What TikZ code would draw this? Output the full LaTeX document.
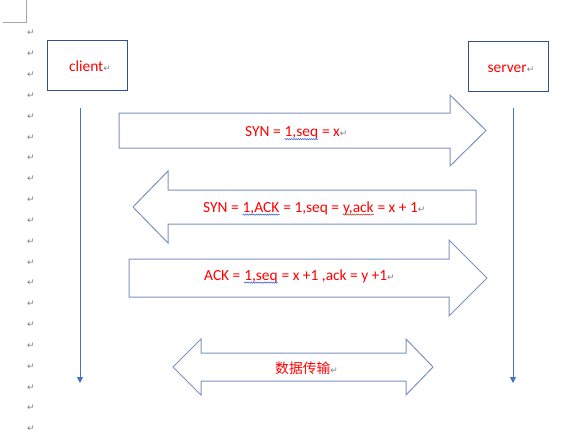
\documentclass[tikz,border=0pt]{standalone}
\usepackage{fontspec}
\setmainfont{Carlito}
\newfontfamily\cjkfont{Noto Sans CJK SC}
\newfontfamily\markfont{DejaVu Sans}
\usetikzlibrary{arrows.meta,decorations.pathmorphing}
\definecolor{boxblue}{RGB}{47,82,143}
\definecolor{shapeblue}{RGB}{125,145,190}
\definecolor{lineblue}{RGB}{68,114,196}
\definecolor{markgray}{RGB}{128,128,128}
\definecolor{spellblue}{RGB}{60,90,220}
\definecolor{spellred}{RGB}{180,70,40}
\newcommand\pmark{{\markfont\fontsize{9}{9}\selectfont\textcolor{markgray}{↵}}}
\newcommand\squig[2][spellblue]{\tikz[baseline=(w.base)]{\node[inner sep=0pt] (w) {#2};
    \draw[#1,line width=0.5pt,decorate,decoration={snake,amplitude=0.6pt,segment length=2.2pt}]
    ([yshift=-2.6pt]w.base west) -- ([yshift=-2.6pt]w.base east);}}

\begin{document}
\begin{tikzpicture}[x=1pt,y=-1pt,>={Triangle[width=6pt,length=6pt]},
      box/.style={draw=boxblue,line width=0.9pt,minimum width=80pt,minimum height=50pt,inner sep=0pt,
        text=red,font=\fontsize{15.4}{17}\selectfont,text height=13pt,text depth=0.4pt,
        execute at begin node=\hspace*{6pt}},
      msg/.style={text=red,font=\fontsize{15.4}{17}\selectfont,inner sep=0pt,anchor=base west},
      block/.style={draw=shapeblue,line width=1pt,line join=miter},
      life/.style={draw=lineblue,line width=0.9pt,->},
      pmk/.style={inner sep=0pt}]
      \useasboundingbox (0,0) rectangle (585,442);

      \draw[gray!70] (3,22) -- (26,22) -- (26,0);
      \foreach \i in {0,...,19}
        \node[pmk] (m\i) at (31,{33+20.84*\i}) {\pmark};

      \node[box] (client) at (87,65) {client\pmark};
      \node[box] (server) at (508,66) {server\pmark};

      \coordinate (c0) at (80,108);
      \coordinate (c1) at (80,383);
      \coordinate (s0) at (513,108);
      \coordinate (s1) at (513,383);
      \draw[life] (c0) -- (c1);
      \draw[life] (s0) -- (s1);

      \draw[block] (119,113) -- (450,113) -- (450,95) -- (486,130.5)
        -- (450,166) -- (450,148) -- (119,148) -- cycle;
      \draw[block] (476,190) -- (168,190) -- (168,171) -- (133,207)
        -- (168,243) -- (168,224) -- (476,224) -- cycle;
      \draw[block] (129,259) -- (449,259) -- (449,240) -- (487,278)
        -- (449,316) -- (449,297) -- (129,297) -- cycle;
      \draw[block] (201,353) -- (406,353) -- (406,339) -- (433,367)
        -- (406,395) -- (406,381) -- (201,381) -- (201,395)
        -- (173,367) -- (201,339) -- cycle;

      \node[msg] (syn) at (245,136.5) {SYN = \squig{1,seq} = x\pmark};
      \node[msg] (synack) at (203,212) {SYN = \squig{1,ACK} = 1,seq = \squig[spellred]{y,ack} = x + 1\pmark};
      \node[msg] (ack) at (204,280) {ACK = \squig{1,seq} = x +1 ,ack = y +1\pmark};
      \node[msg,font=\fontsize{13.8}{16}\selectfont] (data) at (275,373.5) {{\cjkfont 数据传输}\pmark};
      \end{tikzpicture}
\end{document}
